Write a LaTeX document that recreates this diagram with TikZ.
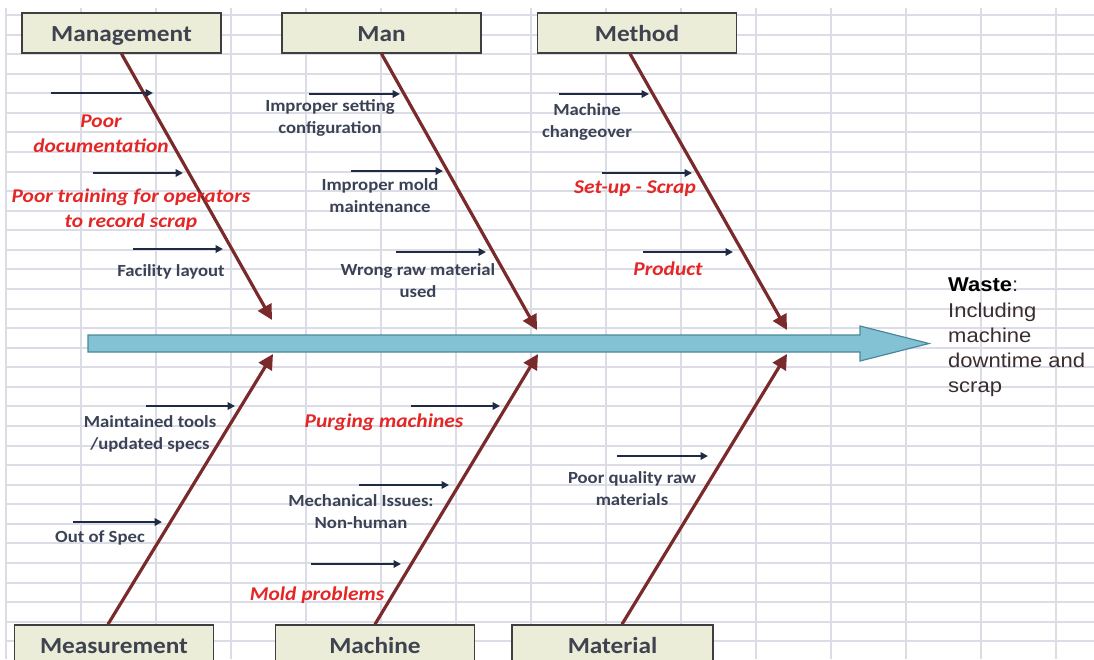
\documentclass[tikz,border=0pt]{standalone}
\usepackage{fontspec}
\setmainfont{Carlito}[FakeStretch=1.1]
\newfontfamily\arialfont{Liberation Sans}[FakeStretch=1.1]
\usetikzlibrary{arrows.meta}

\definecolor{gridc}{HTML}{DCDCE6}
\definecolor{boxfill}{HTML}{EBEDD9}
\definecolor{boxline}{HTML}{3F3F3F}
\definecolor{boxtext}{HTML}{3F4350}
\definecolor{bonec}{HTML}{7A2A2A}
\definecolor{causec}{HTML}{1F2B44}
\definecolor{labelc}{HTML}{3B4255}
\definecolor{redc}{HTML}{E52626}
\definecolor{spinefill}{HTML}{82C2D4}
\definecolor{spineline}{HTML}{4A8899}
\definecolor{effectc}{HTML}{3A2D30}

% a short horizontal cause arrow between two named coordinates
\newcommand\causearrow[4]{%
  \coordinate (#1a) at (#2,#4);
  \coordinate (#1b) at (#3,#4);
  \draw[cause] (#1a) -- (#1b);}

\begin{document}
\begin{tikzpicture}[x=1pt,y=-1pt,
  catbox/.style={draw=boxline, fill=boxfill, line width=1.5pt,
    minimum width=199pt, minimum height=40pt, inner sep=0pt,
    text height=20pt, text depth=3pt,
    text=boxtext, font=\fontsize{23}{27}\selectfont\bfseries},
  bone/.style={draw=bonec, line width=3.2pt,
    -{Triangle[length=15pt,width=15pt]}},
  cause/.style={draw=causec, line width=2pt,
    -{Triangle[length=7.5pt,width=7.5pt]}},
  lbl/.style={text=labelc, align=center, inner sep=0pt,
    font=\fontsize{17}{22}\selectfont\bfseries},
  redlbl/.style={text=redc, align=center, inner sep=0pt,
    font=\fontsize{19.5}{25}\selectfont\bfseries\itshape},
]
\useasboundingbox (0,0) rectangle (1094,659);
\clip (0,0) rectangle (1094,659);

% spreadsheet grid, lines snapped to whole points
\foreach \k in {0,...,14}{
  \pgfmathsetmacro\xx{round(5.5+75.05*\k)}
  \draw[gridc, line width=1.6pt] (\xx,8) -- (\xx,659);}
\foreach \k in {0,...,32}{
  \pgfmathsetmacro\yy{round(15+19.57*\k)}
  \draw[gridc, line width=1.6pt] (5,\yy) -- (1094,\yy);}

% spine
\draw[draw=spineline, fill=spinefill, line width=1.2pt]
  (88,335) -- (860,335) -- (860,326) -- (929,343.5) -- (860,361)
  -- (860,352) -- (88,352) -- cycle;
\coordinate (head) at (929,343.5);

% category boxes
\node[catbox] (mgmt)   at (121.5,33) {Management};
\node[catbox] (man)    at (381.5,33) {Man};
\node[catbox] (method) at (637,33)   {Method};
\node[catbox] (meas)   at (114,645)  {Measurement};
\node[catbox] (mach)   at (375,645)  {Machine};
\node[catbox, minimum width=201pt] (mat) at (612.5,645) {Material};

% bone tips on the spine
\coordinate (mgmtTip)   at (272,320);
\coordinate (manTip)    at (537,330);
\coordinate (methodTip) at (787,330);
\coordinate (measTip)   at (273,354);
\coordinate (machTip)   at (538,354);
\coordinate (matTip)    at (787,354);

% bones
\draw[bone] (mgmt.south) -- (mgmtTip);
\draw[bone] (man.south) -- (manTip);
\draw[bone] ([xshift=-7pt]method.south) -- (methodTip);
\draw[bone] ([xshift=-6pt]meas.north) -- (measTip);
\draw[bone] (mach.north) -- (machTip);
\draw[bone] ([xshift=9.5pt]mat.north) -- (matTip);

% Management causes
\causearrow{mA}{51}{153}{93}
\causearrow{mB}{93}{183}{173}
\causearrow{mC}{133}{223}{249}
\node[redlbl] (poordoc) at (101,134) {Poor\\documentation};
\node[redlbl] (poortrain) at (131,210) {Poor training for operators\\to record scrap};
\node[lbl] (facility) at (171,272) {Facility layout};

% Man causes
\causearrow{nA}{309}{400}{94}
\causearrow{nB}{351}{443}{171}
\causearrow{nC}{396}{486}{252}
\node[lbl] (setting) at (330,118) {Improper setting\\configuration};
\node[lbl] (mold) at (380,195.5) {Improper mold\\maintenance};
\node[lbl] (wrongraw) at (418,280.5) {Wrong raw material\\used};

% Method causes
\causearrow{tA}{559}{649}{94}
\causearrow{tB}{602}{692}{173}
\causearrow{tC}{643}{733}{252}
\node[lbl] (changeover) at (587,121.5) {Machine\\changeover};
\node[redlbl] (setup) at (635,189) {Set-up - Scrap};
\node[redlbl] (product) at (668,269) {Product};

% Measurement causes
\causearrow{sA}{146}{235}{406}
\causearrow{sB}{73}{162}{522}
\node[lbl] (tools) at (150,433.5) {Maintained tools\\/updated specs};
\node[lbl] (outspec) at (100,538) {Out of Spec};

% Machine causes
\causearrow{cA}{411}{500}{406}
\causearrow{cB}{359}{449}{485}
\causearrow{cC}{311}{401}{564}
\node[redlbl] (purging) at (384,422) {Purging machines};
\node[lbl] (mech) at (361,512) {Mechanical Issues:\\Non-human};
\node[redlbl] (moldprob) at (317,595) {Mold problems};

% Material causes
\causearrow{rA}{617}{708}{456}
\node[lbl] (poorraw) at (632,489) {Poor quality raw\\materials};

% effect
\node[anchor=north west, inner sep=0pt, align=left, text=effectc,
  font=\arialfont\fontsize{20}{25.2}\selectfont] (waste) at (948,278)
  {{\color{black}\bfseries Waste}:\\Including\\machine\\downtime and\\scrap};
\end{tikzpicture}
\end{document}
